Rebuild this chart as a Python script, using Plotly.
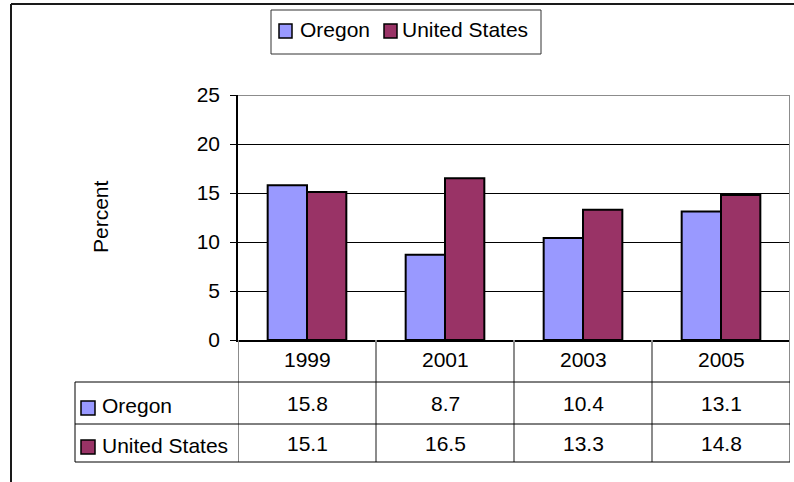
import plotly.graph_objects as go

# Survey results by year
years = ["1999", "2001", "2003", "2005"]
oregon = [15.8, 8.7, 10.4, 13.1]
united_states = [15.1, 16.5, 13.3, 14.8]
series_names = ["Oregon", "United States"]
y_ticks = [0, 5, 10, 15, 20, 25]

OREGON_COLOR = "#9999FF"
US_COLOR = "#993366"
FONT = "Arial, Liberation Sans, sans-serif"
FS = 21
GRAY = "#8c8c8c"

W, H = 794, 482
L, R, T, B = 238, 4, 95, 142
PW, PH = W - L - R, H - T - B


def fx(px):
    return (px - L) / PW


def fy(py):
    return (H - B - py) / PH


fig = go.Figure()
fig.add_trace(go.Bar(x=years, y=oregon, name=series_names[0],
                     marker=dict(color=OREGON_COLOR, line=dict(color="black", width=2)),
                     showlegend=False))
fig.add_trace(go.Bar(x=years, y=united_states, name=series_names[1],
                     marker=dict(color=US_COLOR, line=dict(color="black", width=2)),
                     showlegend=False))

shapes = []
# outer chart frame (top and left edges)
shapes.append(dict(type="line", xref="paper", yref="paper", x0=fx(11), x1=fx(820),
                   y0=fy(4), y1=fy(4), line=dict(color="#1a1a1a", width=2)))
shapes.append(dict(type="line", xref="paper", yref="paper", x0=fx(11), x1=fx(11),
                   y0=fy(4), y1=fy(500), line=dict(color="#1a1a1a", width=2)))
# plot area border, top and right
shapes.append(dict(type="line", xref="x", yref="y", x0=-0.5, x1=3.5, y0=25, y1=25,
                   line=dict(color=GRAY, width=2)))
shapes.append(dict(type="line", xref="x", yref="paper", x0=3.5, x1=3.5, y0=1, y1=fy(462),
                   line=dict(color=GRAY, width=2)))
# data table column dividers
for xb in [-0.5, 0.5, 1.5, 2.5]:
    shapes.append(dict(type="line", xref="x", yref="paper", x0=xb, x1=xb, y0=0, y1=fy(462),
                       line=dict(color=GRAY, width=2)))
# data table left edge
shapes.append(dict(type="line", xref="paper", yref="paper", x0=fx(75), x1=fx(75),
                   y0=fy(382), y1=fy(462), line=dict(color="#555555", width=1.5)))
# data table row rules
for yr in [382, 424, 462]:
    shapes.append(dict(type="line", xref="paper", yref="paper", x0=fx(75), x1=fx(790),
                       y0=fy(yr), y1=fy(yr), line=dict(color="black", width=1)))

annotations = []
# header row: category labels (x given as category index on the x axis)
for i, yv in enumerate(years):
    annotations.append(dict(x=i, xref="x", y=fy(359), yref="paper", text=yv,
                            showarrow=False, xanchor="center", yanchor="middle",
                            font=dict(family=FONT, size=FS, color="black")))
# data rows
row_centers = [403, 443]
key_tops = [401, 440]
colors = [OREGON_COLOR, US_COLOR]
for name, vals, yc, kt, col in zip(series_names, [oregon, united_states], row_centers, key_tops, colors):
    for i, v in enumerate(vals):
        annotations.append(dict(x=i, xref="x", y=fy(yc), yref="paper", text=f"{v:.1f}",
                                showarrow=False, xanchor="center", yanchor="middle",
                                font=dict(family=FONT, size=FS, color="black")))
    annotations.append(dict(x=fx(100), xref="paper", y=fy(yc + 2), yref="paper", text=name,
                            showarrow=False, xanchor="left", yanchor="middle",
                            font=dict(family=FONT, size=FS, color="black")))
    shapes.append(dict(type="rect", xref="paper", yref="paper", x0=fx(81), x1=fx(95),
                       y0=fy(kt), y1=fy(kt + 14), fillcolor=col,
                       line=dict(color="black", width=1.5)))

# legend box
shapes.append(dict(type="rect", xref="paper", yref="paper", x0=fx(271), x1=fx(541),
                   y0=fy(10), y1=fy(54), fillcolor="white",
                   line=dict(color="#333333", width=1)))
legend_items = [(279, 300), (384, 402)]
for (kx, tx), name, col in zip(legend_items, series_names, colors):
    shapes.append(dict(type="rect", xref="paper", yref="paper", x0=fx(kx), x1=fx(kx + 13),
                       y0=fy(24), y1=fy(38), fillcolor=col,
                       line=dict(color="black", width=1.5)))
    annotations.append(dict(x=fx(tx - 2), xref="paper", y=fy(30), yref="paper", text=name,
                            showarrow=False, xanchor="left", yanchor="middle",
                            font=dict(family=FONT, size=FS, color="black")))

# y-axis title
annotations.append(dict(x=fx(100), xref="paper", y=fy(217), yref="paper", text="Percent",
                        textangle=-90, showarrow=False, xanchor="center", yanchor="middle",
                        font=dict(family=FONT, size=FS, color="black")))

fig.update_layout(
    width=W, height=H,
    margin=dict(l=L, r=R, t=T, b=B),
    paper_bgcolor="white", plot_bgcolor="white",
    barmode="group", bargap=0.43, bargroupgap=0,
    shapes=shapes, annotations=annotations,
    font=dict(family=FONT, size=FS, color="black"),
    xaxis=dict(type="category", range=[-0.5, 3.5], showticklabels=False, ticks="",
               showgrid=False, showline=True, linecolor="black", linewidth=1.5,
               zeroline=False, fixedrange=True),
    yaxis=dict(range=[0, 25], tickvals=y_ticks, ticks="outside", ticklen=6,
               tickcolor="black", tickwidth=1, showline=True, linecolor="black",
               linewidth=1.5, showgrid=True, gridcolor="black", gridwidth=1,
               zeroline=False, ticklabelstandoff=6,
               tickfont=dict(family=FONT, size=FS, color="black"), fixedrange=True),
)

fig.write_html("out.html")
